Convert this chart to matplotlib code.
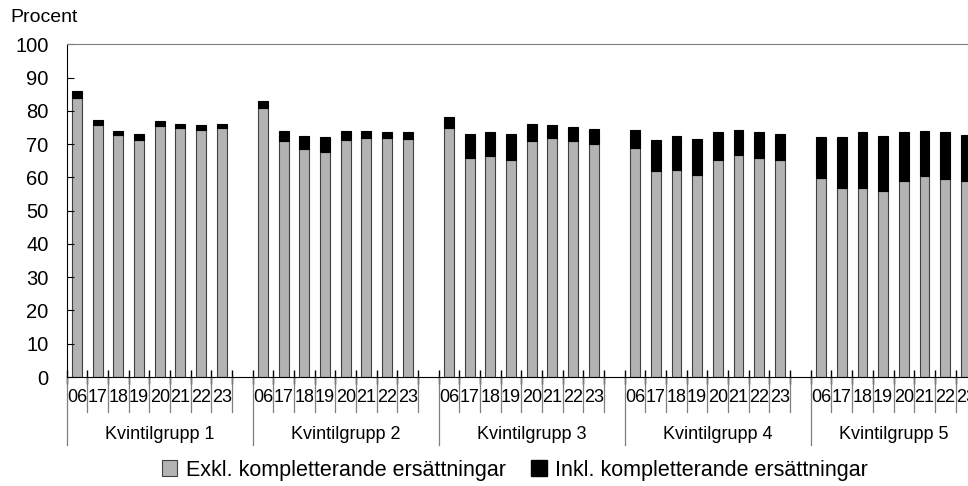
import numpy as np
import matplotlib.pyplot as plt
from matplotlib.patches import Patch

plt.rcParams['font.family'] = ['Liberation Sans', 'DejaVu Sans']

years = ["06", "17", "18", "19", "20", "21", "22", "23"]
groups = ["Kvintilgrupp 1", "Kvintilgrupp 2", "Kvintilgrupp 3",
          "Kvintilgrupp 4", "Kvintilgrupp 5"]

# Exkl. kompletterande ersättningar (grey part)
exkl_q1 = [83.8, 75.8, 72.6, 71.2, 75.4, 74.7, 74.2, 74.7]
exkl_q2 = [80.8, 70.8, 68.5, 67.5, 71.2, 71.8, 71.7, 71.5]
exkl_q3 = [74.9, 65.8, 66.5, 65.2, 70.8, 71.9, 70.8, 70.0]
exkl_q4 = [68.8, 61.8, 62.3, 60.8, 65.1, 66.8, 65.8, 65.3]
exkl_q5 = [59.8, 56.8, 56.8, 55.8, 58.8, 60.3, 59.6, 59.0]

# Inkl. kompletterande ersättningar (total bar height)
inkl_q1 = [86.1, 77.1, 73.9, 73.0, 76.8, 76.1, 75.6, 76.1]
inkl_q2 = [83.1, 74.0, 72.4, 72.2, 73.8, 73.8, 73.7, 73.7]
inkl_q3 = [78.1, 73.1, 73.7, 73.1, 75.9, 75.7, 75.1, 74.6]
inkl_q4 = [74.1, 71.1, 72.5, 71.5, 73.7, 74.1, 73.5, 73.0]
inkl_q5 = [72.2, 72.2, 73.5, 72.4, 73.6, 73.8, 73.6, 72.8]

exkl = [exkl_q1, exkl_q2, exkl_q3, exkl_q4, exkl_q5]
inkl = [inkl_q1, inkl_q2, inkl_q3, inkl_q4, inkl_q5]

GREY = '#b3b3b3'
slots = 9  # 8 years + 1 empty slot between groups
n_slots = slots * len(groups) - 1

fig = plt.figure(figsize=(9.68, 4.86), dpi=100)
ax = fig.add_axes([66.7 / 968, 109 / 486, n_slots * 20.67 / 968, 332.7 / 486])

bar_pos = []
for g in range(len(groups)):
    x = slots * g + np.arange(len(years)) + 0.5
    bar_pos.extend(x)
    e = np.array(exkl[g])
    t = np.array(inkl[g])
    ax.bar(x, e, width=0.48, color=GREY, edgecolor='#404040', linewidth=0.8)
    ax.bar(x, t - e, bottom=e, width=0.48, color='black', edgecolor='black', linewidth=0.8)

ax.set_xlim(0, n_slots)
ax.set_ylim(0, 100)
ax.set_yticks(range(0, 101, 10))
ax.tick_params(axis='y', direction='in', length=5, labelsize=14.5, pad=13)

# boundaries as major ticks, year labels as minor ticks
ax.set_xticks(np.arange(0, n_slots + 1))
ax.set_xticklabels([])
ax.tick_params(axis='x', which='major', direction='inout', length=10, width=1)
ax.set_xticks(bar_pos, minor=True)
ax.set_xticklabels(years * len(groups), minor=True)
ax.tick_params(axis='x', which='minor', length=0, labelsize=13, pad=8.5)

ax.spines['right'].set_visible(False)
ax.spines['top'].set_color('#808080')
ax.spines['left'].set_color('black')
ax.spines['bottom'].set_color('black')

# separator lines below the axis
trans = ax.get_xaxis_transform()
bounds = [slots * g for g in range(len(groups))] + [n_slots]
for g in range(len(groups)):
    start = slots * g
    for b in range(1, len(years) + 1):
        ax.plot([start + b] * 2, [0, -0.105], transform=trans, clip_on=False,
                color='#7f7f7f', lw=0.9)
    ax.plot([start] * 2, [0, -0.204], transform=trans, clip_on=False,
            color='#7f7f7f', lw=0.9)
    ax.text((bounds[g] + bounds[g + 1]) / 2, -0.174, groups[g], transform=trans,
            ha='center', va='center', fontsize=13)

fig.text(10 / 968, 1 - 18 / 486, 'Procent', va='center', ha='left', fontsize=14)

handles = [Patch(facecolor=GREY, edgecolor='#404040', linewidth=0.8),
           Patch(facecolor='black', edgecolor='black')]
fig.legend(handles, ['Exkl. kompletterande ersättningar', 'Inkl. kompletterande ersättningar'],
           loc='center', bbox_to_anchor=(515 / 968, 1 - 470 / 486), ncol=2, frameon=False,
           fontsize=15.5, handlelength=0.7, handleheight=0.7, handletextpad=0.4,
           columnspacing=1.2)

fig.savefig('out.png', dpi=100)
